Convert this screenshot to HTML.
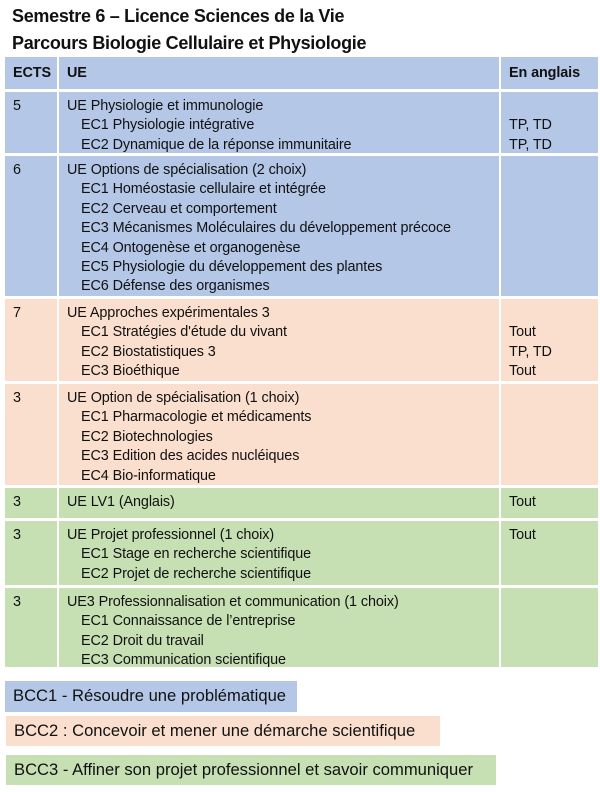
<!DOCTYPE html>
<html><head><meta charset="utf-8"><style>
body{margin:0;width:600px;height:792px;background:#fff;font-family:"Liberation Sans",sans-serif;color:#111;position:relative;overflow:hidden}
.t{position:absolute;left:12px;font-weight:bold;font-size:18px;letter-spacing:-0.3px}
.c{position:absolute;font-size:14.4px;line-height:19.4px;padding-top:5px;box-sizing:border-box;letter-spacing:-0.1px;white-space:nowrap}
.b{background:#b4c7e7}.p{background:#fbdfce}.g{background:#c6e0b4}
.i{padding-left:14px}
.l{position:absolute;font-size:16.6px;line-height:30px;padding-left:8px;box-sizing:border-box;white-space:nowrap}
</style></head><body>
<div class="t" style="top:6px">Semestre 6 – Licence Sciences de la Vie</div>
<div class="t" style="top:33px">Parcours Biologie Cellulaire et Physiologie</div>

<div class="c b" style="left:5px;top:57px;width:52px;height:32px;padding:7px 0 0 8px;font-weight:bold">ECTS</div>
<div class="c b" style="left:59px;top:57px;width:440px;height:32px;padding:7px 0 0 8px;font-weight:bold">UE</div>
<div class="c b" style="left:501px;top:57px;width:97px;height:32px;padding:7px 0 0 8px;font-weight:bold">En anglais</div>

<div class="c b" style="left:5px;top:92px;width:52px;height:61px;padding-left:8px">5</div>
<div class="c b" style="left:59px;top:92px;width:440px;height:61px;padding-left:8px">UE Physiologie et immunologie<div class="i">EC1 Physiologie intégrative</div><div class="i">EC2 Dynamique de la réponse immunitaire</div></div>
<div class="c b" style="left:501px;top:92px;width:97px;height:61px;padding-left:8px"><br>TP, TD<br>TP, TD</div>

<div class="c b" style="left:5px;top:156px;width:52px;height:140px;padding-left:8px">6</div>
<div class="c b" style="left:59px;top:156px;width:440px;height:140px;padding-left:8px">UE Options de spécialisation (2 choix)<div class="i">EC1 Homéostasie cellulaire et intégrée</div><div class="i">EC2 Cerveau et comportement</div><div class="i">EC3 Mécanismes Moléculaires du développement précoce</div><div class="i">EC4 Ontogenèse et organogenèse</div><div class="i">EC5 Physiologie du développement des plantes</div><div class="i">EC6 Défense des organismes</div></div>
<div class="c b" style="left:501px;top:156px;width:97px;height:140px"></div>

<div class="c p" style="left:5px;top:299px;width:52px;height:82px;padding-left:8px">7</div>
<div class="c p" style="left:59px;top:299px;width:440px;height:82px;padding-left:8px">UE Approches expérimentales 3<div class="i">EC1 Stratégies d'étude du vivant</div><div class="i">EC2 Biostatistiques 3</div><div class="i">EC3 Bioéthique</div></div>
<div class="c p" style="left:501px;top:299px;width:97px;height:82px;padding-left:8px"><br>Tout<br>TP, TD<br>Tout</div>

<div class="c p" style="left:5px;top:384px;width:52px;height:101px;padding-left:8px">3</div>
<div class="c p" style="left:59px;top:384px;width:440px;height:101px;padding-left:8px">UE Option de spécialisation (1 choix)<div class="i">EC1 Pharmacologie et médicaments</div><div class="i">EC2 Biotechnologies</div><div class="i">EC3 Edition des acides nucléiques</div><div class="i">EC4 Bio-informatique</div></div>
<div class="c p" style="left:501px;top:384px;width:97px;height:101px"></div>

<div class="c g" style="left:5px;top:488px;width:52px;height:30px;padding-left:8px">3</div>
<div class="c g" style="left:59px;top:488px;width:440px;height:30px;padding-left:8px">UE LV1 (Anglais)</div>
<div class="c g" style="left:501px;top:488px;width:97px;height:30px;padding-left:8px">Tout</div>

<div class="c g" style="left:5px;top:521px;width:52px;height:64px;padding-left:8px">3</div>
<div class="c g" style="left:59px;top:521px;width:440px;height:64px;padding-left:8px">UE Projet professionnel (1 choix)<div class="i">EC1 Stage en recherche scientifique</div><div class="i">EC2 Projet de recherche scientifique</div></div>
<div class="c g" style="left:501px;top:521px;width:97px;height:64px;padding-left:8px">Tout</div>

<div class="c g" style="left:5px;top:588px;width:52px;height:79px;padding-left:8px">3</div>
<div class="c g" style="left:59px;top:588px;width:440px;height:79px;padding-left:8px">UE3 Professionnalisation et communication (1 choix)<div class="i">EC1 Connaissance de l’entreprise</div><div class="i">EC2 Droit du travail</div><div class="i">EC3 Communication scientifique</div></div>
<div class="c g" style="left:501px;top:588px;width:97px;height:79px"></div>

<div class="l b" style="left:5px;top:681px;width:292px;height:31px">BCC1 - Résoudre une problématique</div>
<div class="l p" style="left:6px;top:716px;width:434px;height:30px">BCC2 : Concevoir et mener une démarche scientifique</div>
<div class="l g" style="left:6px;top:755px;width:490px;height:30px">BCC3 - Affiner son projet professionnel et savoir communiquer</div>
</body></html>
